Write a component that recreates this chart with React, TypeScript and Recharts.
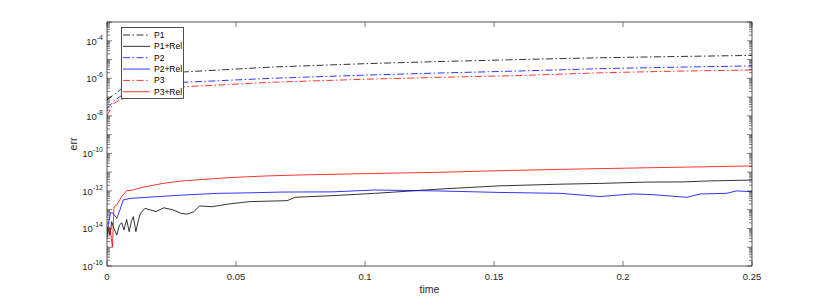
import React from 'react';
import { LineChart, Line, XAxis, YAxis } from 'recharts';

const FONT = '"Liberation Sans", Arial, Helvetica, sans-serif';
const AXIS = '#262626';

// time samples and log10(err)
const p1T = [0, 0.0008, 0.003, 0.005, 0.01, 0.02, 0.03, 0.064, 0.1, 0.128, 0.16, 0.193, 0.22, 0.25];
const p1E = [-7.15, -7.05, -6.85, -6.62, -6.3, -5.9, -5.66, -5.4, -5.22, -5.11, -5.0, -4.9, -4.84, -4.78];

const p1rT = [0, 0.0005, 0.0012, 0.0018, 0.0027, 0.0038, 0.0048, 0.0057, 0.0066, 0.0076, 0.0086, 0.0095, 0.0102, 0.0112, 0.0121, 0.013, 0.0147, 0.0167, 0.019, 0.022, 0.0254, 0.0286, 0.031, 0.0335, 0.0359, 0.0407, 0.047, 0.0553, 0.0698, 0.073, 0.0876, 0.1037, 0.128, 0.152, 0.176, 0.191, 0.209, 0.223, 0.233, 0.25];
const p1rE = [-13.9, -14.0, -14.35, -13.64, -14.0, -14.35, -13.83, -13.69, -14.08, -13.52, -14.17, -13.6, -13.37, -14.17, -13.6, -13.19, -12.93, -13.01, -13.1, -12.9, -13.0, -13.19, -13.24, -13.12, -12.8, -12.84, -12.7, -12.57, -12.52, -12.34, -12.25, -12.13, -11.91, -11.73, -11.64, -11.6, -11.53, -11.52, -11.47, -11.42];

const p2T = [0, 0.0008, 0.003, 0.0056, 0.01, 0.02, 0.03, 0.064, 0.1, 0.128, 0.16, 0.193, 0.22, 0.25];
const p2E = [-7.6, -7.5, -7.16, -6.92, -6.65, -6.4, -6.21, -6.0, -5.83, -5.72, -5.61, -5.48, -5.41, -5.34];

const p2rT = [0, 0.0006, 0.0014, 0.0024, 0.0038, 0.005, 0.0063, 0.0089, 0.0167, 0.0295, 0.0426, 0.0554, 0.068, 0.0876, 0.1037, 0.128, 0.152, 0.176, 0.191, 0.204, 0.2116, 0.2248, 0.23, 0.24, 0.244, 0.25];
const p2rE = [-14.5, -13.7, -13.15, -13.19, -13.46, -13.02, -12.48, -12.4, -12.33, -12.22, -12.13, -12.1, -12.06, -12.05, -11.95, -12.0, -12.08, -12.13, -12.3, -12.16, -12.2, -12.34, -12.16, -12.13, -12.0, -12.04];

const p3T = [0, 0.0008, 0.0023, 0.005, 0.01, 0.02, 0.03, 0.064, 0.1, 0.128, 0.16, 0.193, 0.22, 0.25];
const p3E = [-8.0, -7.8, -7.37, -7.16, -6.9, -6.63, -6.45, -6.21, -6.05, -5.95, -5.85, -5.7, -5.62, -5.56];

const p3rT = [0, 0.0006, 0.0012, 0.0021, 0.0027, 0.0038, 0.0057, 0.0076, 0.0101, 0.014, 0.0217, 0.0295, 0.036, 0.0488, 0.062, 0.0748, 0.1, 0.128, 0.15, 0.176, 0.2, 0.225, 0.25];
const p3rE = [-14.3, -13.9, -14.0, -15.0, -12.84, -12.75, -12.3, -11.99, -11.95, -11.8, -11.6, -11.46, -11.4, -11.28, -11.2, -11.15, -11.08, -11.01, -10.93, -10.85, -10.79, -10.73, -10.67];

const seriesNames = ['P1', 'P1+Rel', 'P2', 'P2+Rel', 'P3', 'P3+Rel'];
const xTicks = [0, 0.05, 0.1, 0.15, 0.2, 0.25];
const yLabelExps = [-16, -14, -12, -10, -8, -6, -4];
const yDomain = [-16, -3];

const DASHDOT = '7 2.5 1.5 2.5';

const rows = (t: number[], e: number[]) => t.map((tt, i) => ({ t: tt, v: e[i] }));

const series = [
  { name: seriesNames[0], data: rows(p1T, p1E), color: '#000000', dash: DASHDOT },
  { name: seriesNames[1], data: rows(p1rT, p1rE), color: '#000000', dash: undefined },
  { name: seriesNames[2], data: rows(p2T, p2E), color: '#0000ff', dash: DASHDOT },
  { name: seriesNames[3], data: rows(p2rT, p2rE), color: '#0000ff', dash: undefined },
  { name: seriesNames[4], data: rows(p3T, p3E), color: '#ff0000', dash: DASHDOT },
  { name: seriesNames[5], data: rows(p3rT, p3rE), color: '#ff0000', dash: undefined },
];

// log-axis tick positions: decades plus 2..9 minors
const yTicks: number[] = [];
for (let k = yDomain[0]; k <= yDomain[1]; k++) {
  yTicks.push(k);
  if (k < yDomain[1]) for (let m = 2; m <= 9; m++) yTicks.push(k + Math.log10(m));
}

const isMajor = (v: number) => Math.abs(v - Math.round(v)) < 1e-9;

function LeftTick({ x, y, payload }: any) {
  const v = payload.value;
  const major = isMajor(v);
  const len = major ? 5 : 3;
  const e = Math.round(v);
  return (
    <g>
      <line x1={x} x2={x + len} y1={y} y2={y} stroke={AXIS} strokeWidth={0.6} />
      {major && yLabelExps.includes(e) && (
        <text x={x - 4} y={y + 4} textAnchor="end" fontSize={9.5} fill={AXIS} fontFamily={FONT}>
          10<tspan dy={-5} fontSize={7}>{e}</tspan>
        </text>
      )}
    </g>
  );
}

function RightTick({ x, y, payload }: any) {
  const len = isMajor(payload.value) ? 5 : 3;
  return <line x1={x} x2={x - len} y1={y} y2={y} stroke={AXIS} strokeWidth={0.6} />;
}

function BottomTick({ x, y, payload }: any) {
  return (
    <g>
      <line x1={x} x2={x} y1={y} y2={y - 5} stroke={AXIS} strokeWidth={0.6} />
      <text x={x} y={y + 14} textAnchor="middle" fontSize={9.5} fill={AXIS} fontFamily={FONT}>
        {String(payload.value)}
      </text>
    </g>
  );
}

function TopTick({ x, y }: any) {
  return <line x1={x} x2={x} y1={y} y2={y + 5} stroke={AXIS} strokeWidth={0.6} />;
}

function LegendBox() {
  const w = 63, h = 72;
  return (
    <svg width={w} height={h} style={{ position: 'absolute', left: 113, top: 19, background: '#fff' }}>
      <rect x={0.5} y={0.5} width={w - 1} height={h - 1} fill="#fff" stroke={AXIS} strokeWidth={0.8} />
      {series.map((s, i) => {
        const cy = 8 + i * 11.35;
        return (
          <g key={s.name}>
            <line x1={2} x2={29} y1={cy} y2={cy} stroke={s.color} strokeWidth={0.8} strokeDasharray={s.dash} />
            <text x={33} y={cy + 3} fontSize={8.5} fill="#000" fontFamily={FONT}>{s.name}</text>
          </g>
        );
      })}
    </svg>
  );
}

export default function App() {
  return (
    <div style={{ position: 'relative', width: 822, height: 292 }}>
      <LineChart width={822} height={292} margin={{ top: 4, right: 68, bottom: 0, left: 39 }}>
        <XAxis
          type="number"
          dataKey="t"
          domain={[0, 0.25]}
          ticks={xTicks}
          interval={0}
          allowDataOverflow
          height={34}
          tickSize={0}
          tickMargin={0}
          tickLine={false}
          tick={<BottomTick />}
          axisLine={{ stroke: AXIS, strokeWidth: 0.8 }}
          label={{ value: 'time', position: 'insideBottom', offset: 7, fontSize: 10.5, fill: AXIS, fontFamily: FONT }}
        />
        <XAxis
          xAxisId="top"
          orientation="top"
          type="number"
          dataKey="t"
          domain={[0, 0.25]}
          ticks={xTicks}
          interval={0}
          allowDataOverflow
          height={10}
          tickSize={0}
          tickMargin={0}
          tickLine={false}
          tick={<TopTick />}
          axisLine={{ stroke: AXIS, strokeWidth: 0.8 }}
        />
        <YAxis
          type="number"
          domain={yDomain}
          ticks={yTicks}
          interval={0}
          allowDataOverflow
          width={60}
          tickSize={0}
          tickMargin={0}
          tickLine={false}
          tick={<LeftTick />}
          axisLine={{ stroke: AXIS, strokeWidth: 0.8 }}
          label={{ value: 'err', angle: -90, position: 'insideLeft', offset: 26, fontSize: 10.5, fill: AXIS, fontFamily: FONT, style: { textAnchor: 'middle' } }}
        />
        <YAxis
          yAxisId="right"
          orientation="right"
          type="number"
          domain={yDomain}
          ticks={yTicks}
          interval={0}
          allowDataOverflow
          width={10}
          tickSize={0}
          tickMargin={0}
          tickLine={false}
          tick={<RightTick />}
          axisLine={{ stroke: AXIS, strokeWidth: 0.8 }}
        />
        {series.map((s) => (
          <Line
            key={s.name}
            data={s.data}
            dataKey="v"
            name={s.name}
            type="linear"
            stroke={s.color}
            strokeWidth={0.8}
            strokeDasharray={s.dash}
            dot={false}
            activeDot={false}
            isAnimationActive={false}
          />
        ))}
      </LineChart>
      <LegendBox />
    </div>
  );
}
